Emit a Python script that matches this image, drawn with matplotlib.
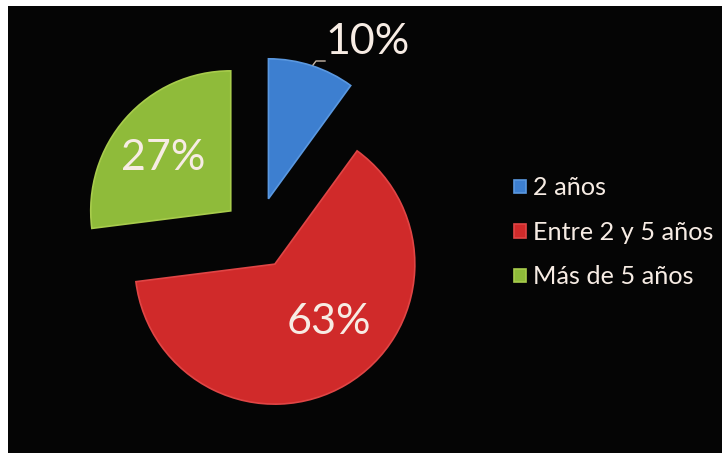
import matplotlib.pyplot as plt
from matplotlib.patches import Rectangle

labels = ["2 años", "Entre 2 y 5 años", "Más de 5 años"]
values = [10, 63, 27]
colors = ["#3d7fd0", "#d02a2a", "#8fbb3a"]
edges = ["#5a98e0", "#e04545", "#a8cc4c"]

TXT = "#f7ece4"
plt.rcParams["font.family"] = ["Lato", "DejaVu Sans"]

fig = plt.figure(figsize=(7.22, 4.53), dpi=100, facecolor="white")
ax = fig.add_axes([0, 0, 1, 1])
ax.set_xlim(0, 722)
ax.set_ylim(0, 453)
ax.set_aspect("equal")
ax.axis("off")

# black chart area with a thin white margin on the left and top
ax.add_patch(Rectangle((8, 0), 714, 447, facecolor="#050505", edgecolor="none", zorder=0))

# explode is in data units here (pixels), since radius is in pixels too
wedges, texts, autotexts = ax.pie(
    values, colors=colors, startangle=90, counterclock=False,
    explode=[37, 35, 35], radius=140, center=(257, 219),
    autopct="%1.0f%%", pctdistance=0.56, frame=True,
    textprops=dict(color=TXT, fontsize=31),
    wedgeprops=dict(linewidth=1.2),
)
for w, ec in zip(wedges, edges):
    w.set_edgecolor(ec)
    w.set_zorder(2)
for t in autotexts:
    t.set_zorder(3)

# small label moved outside the blue slice, with a short leader
autotexts[0].set_position((368, 411))
ax.plot([313, 316, 325], [388, 392, 392], color="#c8b8a8", lw=1, zorder=3)
autotexts[1].set_position((329, 131))
autotexts[2].set_position((163, 295))

leg = ax.legend(
    wedges, labels, loc="center left", bbox_to_anchor=(0.681, 0.487),
    frameon=False, fontsize=18.2, labelcolor=TXT,
    handlelength=0.45, handleheight=0.45, handletextpad=0.3, labelspacing=0.85,
)

fig.savefig("out.png", dpi=100, facecolor="white")
